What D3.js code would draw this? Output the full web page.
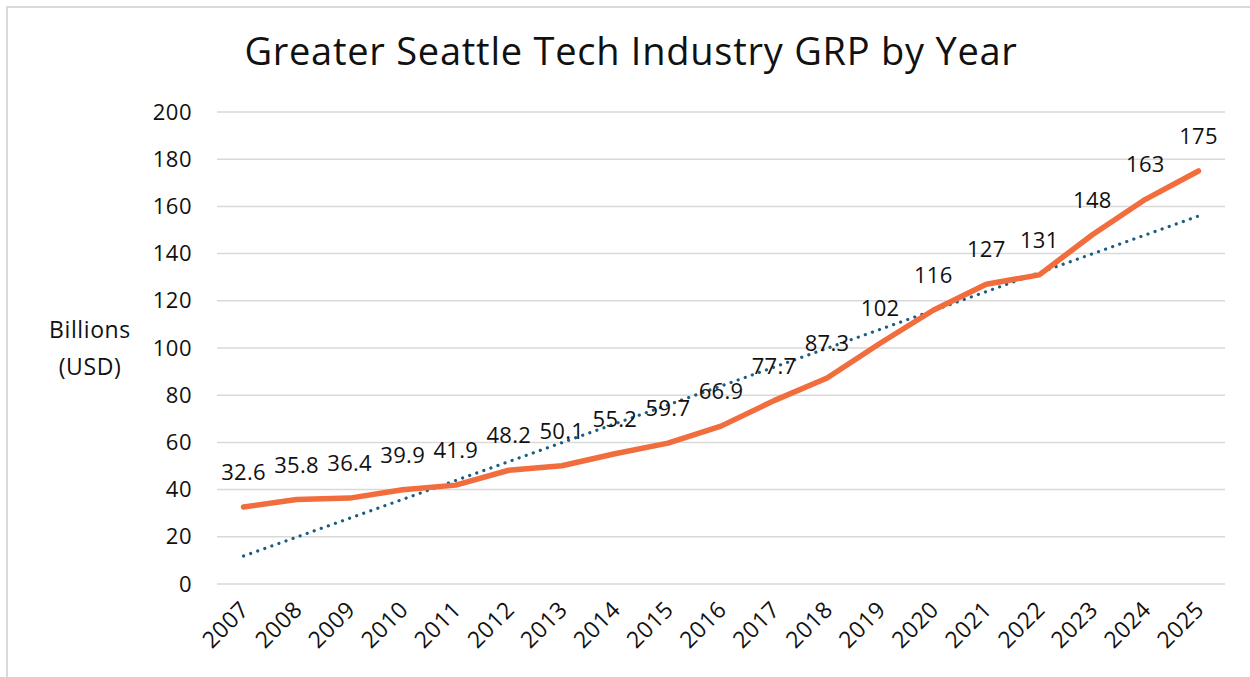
<!DOCTYPE html>
<html>
<head>
<meta charset="utf-8">
<script src="https://cdn.jsdelivr.net/npm/d3@7"></script>
<style>
  body { margin: 0; background: #fff; }
  text { font-family: "Open Sans", "Noto Sans", sans-serif; fill: #111; }
</style>
</head>
<body>
<svg id="chart" width="1250" height="677"></svg>
<script>
// chart data
const years = ["2007", "2008", "2009", "2010", "2011", "2012", "2013", "2014", "2015", "2016",
  "2017", "2018", "2019", "2020", "2021", "2022", "2023", "2024", "2025"];
const grp = [32.6, 35.8, 36.4, 39.9, 41.9, 48.2, 50.1, 55.2, 59.7, 66.9,
  77.7, 87.3, 102, 116, 127, 131, 148, 163, 175];
const yTicks = [0, 20, 40, 60, 80, 100, 120, 140, 160, 180, 200];

const title = "Greater Seattle Tech Industry GRP by Year";
const yLabel = ["Billions", "(USD)"];

const font = "'Open Sans', 'Noto Sans', sans-serif";
const svg = d3.select("#chart");

// outer frame (runs off the right and bottom edge like the source)
svg.append("rect")
  .attr("x", 7).attr("y", 7)
  .attr("width", 1260).attr("height", 690)
  .attr("fill", "none")
  .attr("stroke", "#d9d9d9")
  .attr("stroke-width", 2);

const margin = { left: 217, right: 25, top: 112, bottom: 93 };
const width = 1250 - margin.left - margin.right;
const height = 677 - margin.top - margin.bottom;

const x = d3.scaleBand().domain(years).range([0, width]);
const y = d3.scaleLinear().domain([0, 200]).range([height, 0]);
const cx = d => x(d) + x.bandwidth() / 2;

const g = svg.append("g").attr("transform", `translate(${margin.left},${margin.top})`);

// gridlines
g.append("g")
  .selectAll("line")
  .data(yTicks)
  .join("line")
  .attr("x1", 0).attr("x2", width)
  .attr("y1", d => y(d)).attr("y2", d => y(d))
  .attr("stroke", "#d9d9d9")
  .attr("stroke-width", 1.5);

// y axis labels
const yAxis = g.append("g")
  .call(d3.axisLeft(y).tickValues(yTicks).tickSize(0).tickPadding(25));
yAxis.select(".domain").remove();
yAxis.selectAll("text")
  .attr("font-size", 22)
  .attr("font-family", font)
  .attr("letter-spacing", 0.5)
  .attr("fill", "#111");

// x axis labels
const xAxis = g.append("g")
  .attr("transform", `translate(0,${height})`)
  .call(d3.axisBottom(x).tickSize(0).tickPadding(0));
xAxis.select(".domain").remove();
xAxis.selectAll("text")
  .attr("font-size", 23)
  .attr("font-family", font)
  .attr("letter-spacing", 0.5)
  .attr("fill", "#111")
  .attr("text-anchor", "end")
  .attr("dy", 0)
  .attr("transform", "translate(7,27) rotate(-45)");

// linear trendline from least squares fit
const n = grp.length;
const xs = d3.range(n);
const mx = d3.mean(xs), my = d3.mean(grp);
const slope = d3.sum(xs, i => (i - mx) * (grp[i] - my)) / d3.sum(xs, i => (i - mx) ** 2);
const icpt = my - slope * mx;
const trend = [
  { year: years[0], v: icpt },
  { year: years[n - 1], v: icpt + slope * (n - 1) }
];

g.append("path")
  .datum(trend)
  .attr("fill", "none")
  .attr("stroke", "#1b5e80")
  .attr("stroke-width", 3.2)
  .attr("stroke-linecap", "round")
  .attr("stroke-dasharray", "0.1 7.4")
  .attr("d", d3.line().x(d => cx(d.year)).y(d => y(d.v)));

// main series
const series = years.map((yr, i) => ({ year: yr, v: grp[i] }));
g.append("path")
  .datum(series)
  .attr("fill", "none")
  .attr("stroke", "#f26d3d")
  .attr("stroke-width", 5.5)
  .attr("stroke-linecap", "round")
  .attr("stroke-linejoin", "round")
  .attr("d", d3.line().x(d => cx(d.year)).y(d => y(d.v)));

// data labels
g.append("g")
  .selectAll("text")
  .data(series)
  .join("text")
  .attr("x", d => cx(d.year))
  .attr("y", d => y(d.v) - 27)
  .attr("text-anchor", "middle")
  .attr("font-size", 22)
  .attr("letter-spacing", 0.3)
  .text(d => d.v);

// title
svg.append("text")
  .attr("x", 631).attr("y", 65)
  .attr("text-anchor", "middle")
  .attr("font-size", 38)
  .attr("letter-spacing", 0.75)
  .text(title);

// y axis title
svg.append("text")
  .attr("x", 90).attr("y", 338)
  .attr("text-anchor", "middle")
  .attr("font-size", 23)
  .attr("letter-spacing", 0.6)
  .selectAll("tspan")
  .data(yLabel)
  .join("tspan")
  .attr("x", 90)
  .attr("dy", (d, i) => i ? 37 : 0)
  .text(d => d);
</script>
</body>
</html>
